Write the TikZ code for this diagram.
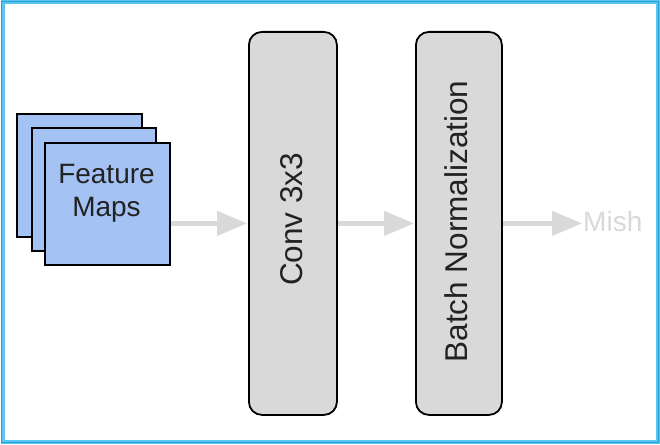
\documentclass[tikz,border=0pt]{standalone}
\usepackage{fontspec}
\setmainfont{Liberation Sans}
\usetikzlibrary{arrows.meta,calc}
\definecolor{fmblue}{HTML}{A4C2F4}
\definecolor{boxgray}{HTML}{D9D9D9}
\definecolor{arrgray}{HTML}{D9D9D9}
\definecolor{frame}{HTML}{5BC4EE}
\definecolor{framedk}{HTML}{1FA3DC}
\definecolor{txt}{HTML}{222222}
\tikzset{
  fmap/.style={draw=black, line width=2pt, fill=fmblue},
  layerbox/.style={draw=black, line width=1.8pt, fill=boxgray, rounded corners=13pt},
  flow/.style={draw=arrgray, line width=4.5pt, -{Triangle[length=30pt,width=24pt]}, shorten >=1pt},
  lbl/.style={font=\fontsize{28}{34}\selectfont, text=txt},
  vlbl/.style={font=\fontsize{31.5}{36}\selectfont, text=txt, rotate=90}
}
\begin{document}
\begin{tikzpicture}[x=1pt,y=-1pt]
\useasboundingbox (0,0) rectangle (660,444);
\fill[white] (0,0) rectangle (660,444);
\draw[frame, line width=4pt] (2.5,2.5) rectangle (657.5,441.5);
\draw[framedk, line width=1pt] (1.2,1.2) rectangle (658.8,442.8);
% feature maps stack
\draw[fmap] (17,114) rectangle (142,237);
\draw[fmap] (32,128) rectangle (156,251);
\node[fmap, minimum width=125pt, minimum height=122pt, inner sep=0pt, anchor=north west] (front) at (44,142) {};
\node[lbl, align=center, inner sep=0pt] (fmtext) at (106.5,193) {Feature\\[-1pt]Maps};
% layer boxes
\node[layerbox, minimum width=88pt, minimum height=383pt, inner sep=0pt, anchor=north west] (conv) at (248,31) {};
\node[vlbl] (convtext) at ($(conv.center)+(-1,-4)$) {Conv 3x3};
\node[layerbox, minimum width=86pt, minimum height=383pt, inner sep=0pt, anchor=north west] (bn) at (415,31) {};
\node[vlbl] (bntext) at ($(bn.center)+(-3,-2)$) {Batch Normalization};
\node[lbl, text=arrgray, anchor=west, inner sep=0pt] (mish) at (583,221) {Mish};
% connectors
\draw[flow] (front.east |- conv.center) -- (conv.west);
\draw[flow] (conv.east) -- (bn.west);
\draw[flow] (bn.east) -- (mish.west |- bn.center);
\end{tikzpicture}
\end{document}
